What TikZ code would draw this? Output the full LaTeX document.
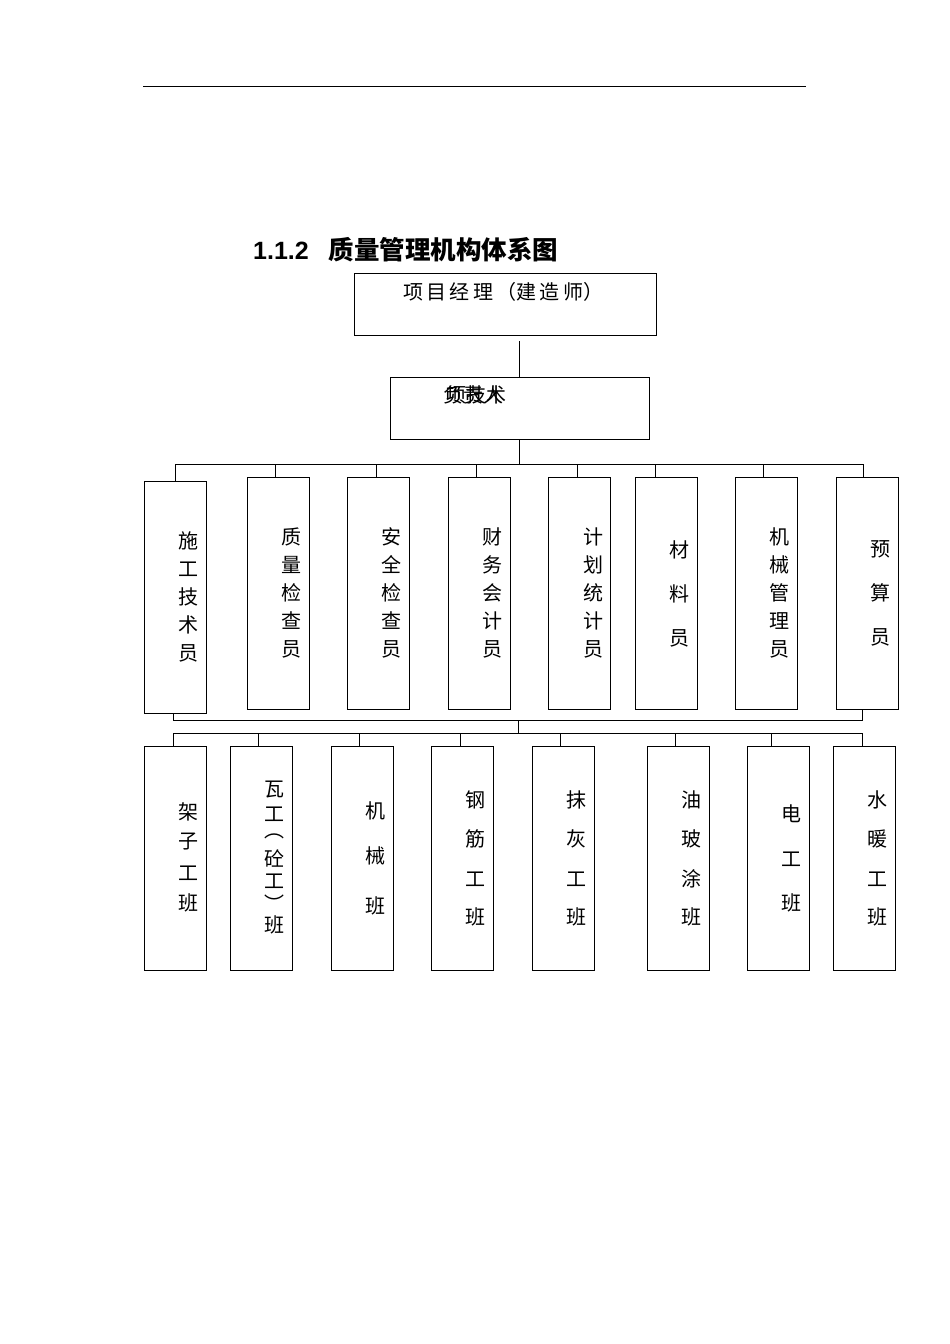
\documentclass[tikz,border=0pt]{standalone}
\usepackage{fontspec}
\setmainfont{Liberation Sans}
\newfontfamily\cjk{Noto Sans CJK SC}
\newfontfamily\cjkb{Noto Sans CJK SC Bold}
\begin{document}
\begin{tikzpicture}[x=1pt,y=-1pt,
  bx/.style={draw,line width=0.9pt},
  ln/.style={line width=0.9pt},
  ch/.style={font=\cjk\fontsize{20}{20}\selectfont,inner sep=0pt}]
\useasboundingbox (0,0) rectangle (950,1344);
\draw[ln] (143,86) -- (806,86);
\node[anchor=west,inner sep=0pt,font=\bfseries\fontsize{25}{25}\selectfont] (title) at (253,250) {1.1.2\hspace{20pt}{\cjkb\fontsize{25.5}{25}\selectfont 质量管理机构体系图}};
\draw[bx] (354,273) rectangle (656,335);
\node[ch] (pm) at (503,292) {项\,目\,经\,理\,（建\,造\,师）};
\coordinate (pmb) at (519,341);
\draw[bx] (390,377) rectangle (649,439);
\coordinate (t2) at (519,377);
\coordinate (b2) at (519,439);
\node[ch] (tm1) at (476,395) {项技术};
\node[ch] (tm2) at (473,395) {负责人};
\draw[ln] (pmb) -- (t2);
\coordinate (h1) at (519,464);
\draw[ln] (b2) -- (h1);
\draw[ln] (175,464) -- (863,464);
% row 1
\foreach \x/\y in {175/481, 275/477, 376/477, 476/477, 577/477, 655/477, 763/477, 863/477}
  \draw[ln] (\x,464) -- (\x,\y);
\draw[bx] (144,481) rectangle (206,713);
\foreach \a in {247,347,448,548,635,735,836}
  \draw[bx] (\a,477) rectangle (\a+62,709);
\foreach \c [count=\i] in {施,工,技,术,员} \node[ch] at (188,513+28*\i) {\c};
\foreach \c [count=\i] in {质,量,检,查,员} \node[ch] at (291,509+28*\i) {\c};
\foreach \c [count=\i] in {安,全,检,查,员} \node[ch] at (391,509+28*\i) {\c};
\foreach \c [count=\i] in {财,务,会,计,员} \node[ch] at (492,509+28*\i) {\c};
\foreach \c [count=\i] in {计,划,统,计,员} \node[ch] at (593,509+28*\i) {\c};
\foreach \c [count=\i] in {机,械,管,理,员} \node[ch] at (779,509+28*\i) {\c};
\foreach \c [count=\i] in {材,料,员} \node[ch] at (679,505+44.5*\i) {\c};
\foreach \c [count=\i] in {预,算,员} \node[ch] at (880,505+44*\i) {\c};
% connection
\draw[ln] (173,713) -- (173,720) -- (862,720) -- (862,709);
\draw[ln] (518,720) -- (518,733);
\draw[ln] (173,733) -- (862,733);
\foreach \x in {173,258,359,460,560,675,771,862} \draw[ln] (\x,733) -- (\x,746);
\foreach \a in {144,230,331,431,532,647,747,833}
  \draw[bx] (\a,746) rectangle (\a+62,970);
\foreach \c/\y in {架/812,子/842,工/873,班/903} \node[ch] at (188,\y) {\c};
\foreach \c/\y in {瓦/790,工/814,︵/836,砼/858,工/881,︶/903,班/925} \node[ch] at (274,\y) {\c};
\foreach \c/\y in {机/811,械/856,班/906} \node[ch] at (375,\y) {\c};
\foreach \c/\y in {钢/800,筋/839,工/879,班/917} \node[ch] at (475,\y) {\c};
\foreach \c/\y in {抹/800,灰/839,工/879,班/917} \node[ch] at (576,\y) {\c};
\foreach \c/\y in {油/800,玻/839,涂/879,班/917} \node[ch] at (691,\y) {\c};
\foreach \c/\y in {电/814,工/859,班/903} \node[ch] at (791,\y) {\c};
\foreach \c/\y in {水/800,暖/839,工/879,班/917} \node[ch] at (877,\y) {\c};
\end{tikzpicture}
\end{document}
